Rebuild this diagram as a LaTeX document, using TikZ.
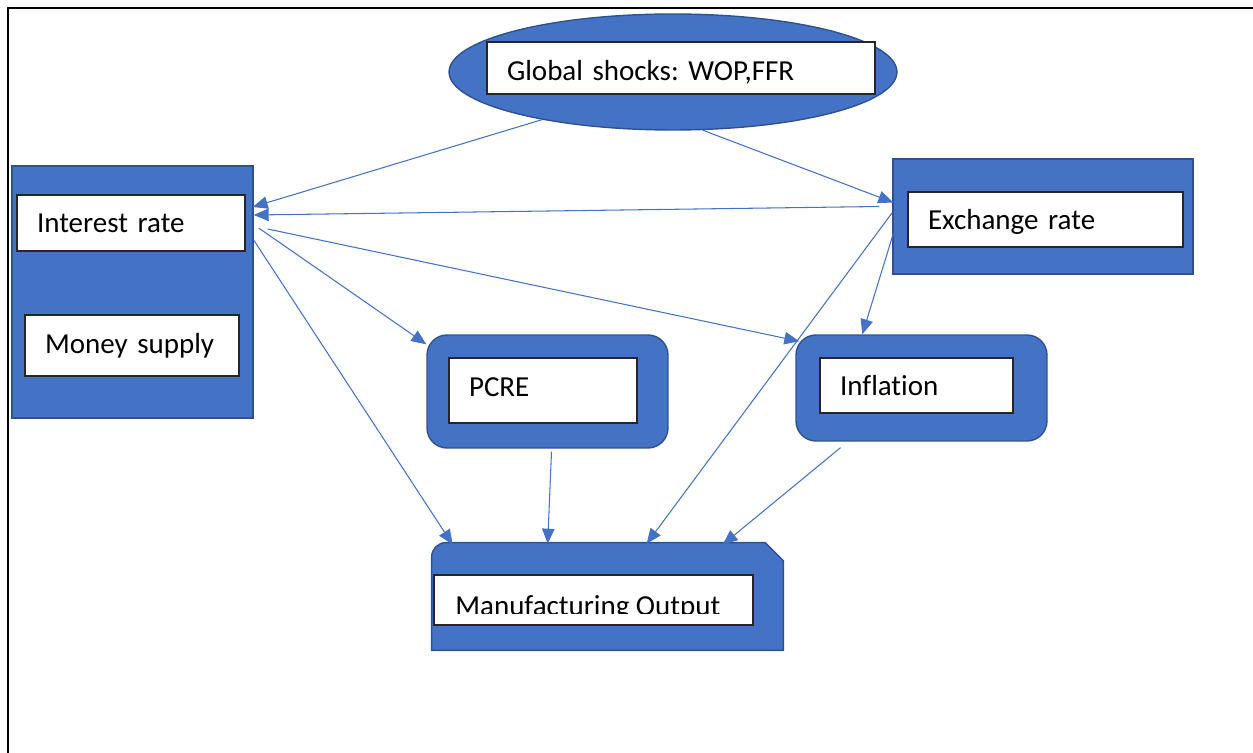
\documentclass[tikz,border=0pt]{standalone}
\usepackage{fontspec}
\setmainfont{Carlito}[Ligatures=NoCommon]
\frenchspacing
\usetikzlibrary{shapes.geometric,arrows.meta,calc}
\definecolor{boxblue}{HTML}{4472C4}
\definecolor{edgeblue}{HTML}{2F528F}

\begin{document}
\begin{tikzpicture}[x=0.02cm,y=-0.02cm,
		outer/.style={fill=boxblue,draw=edgeblue,line width=0.8pt,inner sep=0pt},
		inner/.style={fill=white,draw=black!85,line width=0.8pt,align=left,
			font=\fontsize{16.5}{20}\selectfont,inner xsep=0.4cm,inner ysep=0pt,text depth=0pt},
		link/.style={draw=boxblue,line width=0.6pt,-{Triangle[length=0.3cm,width=0.25cm]}}]

		\useasboundingbox (0,0) rectangle (1253,753);
		\draw[line width=1.4pt] (8,753) -- (8,8) -- (1253,8);

		% outer blue shapes
		\node[outer,ellipse,minimum width=8.96cm,minimum height=2.32cm] (shocks) at (673,72) {};
		\node[outer,minimum width=4.82cm,minimum height=5.04cm] (left) at (132.5,292) {};
		\node[outer,minimum width=6cm,minimum height=2.3cm] (exout) at (1043,216.5) {};
		\node[outer,rounded corners=0.4cm,minimum width=4.82cm,minimum height=2.26cm] (pcreout) at (547.5,391.5) {};
		\node[outer,rounded corners=0.4cm,minimum width=5.02cm,minimum height=2.12cm] (inflout) at (921.5,388) {};
		\node[minimum width=7.02cm,minimum height=2.14cm,inner sep=0pt] (mfg) at (607.5,596.5) {};
		\draw[outer] (mfg.south west) -- ($(mfg.north west)+(0,14)$)
			arc[start angle=180,end angle=90,radius=0.28cm]
			-- ($(mfg.north east)+(-18,0)$) -- ($(mfg.north east)+(0,18)$)
			-- (mfg.south east) -- cycle;

		% white label boxes
		\node[inner,text width=6.96cm,text height=0.52cm,minimum height=1.04cm] (shocksbox) at (681,68) {Global shocks: WOP,FFR};
		\node[inner,text width=3.76cm,text height=0.4cm,minimum height=1.12cm] (irbox) at (131,223) {Interest rate};
		\node[inner,text width=3.48cm,text height=0.3cm,minimum height=1.22cm] (msbox) at (132,345.5) {Money supply};
		\node[inner,text width=4.7cm,text height=0.42cm,minimum height=1.1cm] (exbox) at (1045.5,219.5) {Exchange rate};
		\node[inner,text width=2.96cm,text height=0.22cm,minimum height=1.3cm] (pcrebox) at (543,390.5) {PCRE};
		\node[inner,text width=3.06cm,text height=0.38cm,minimum height=1.1cm] (inflbox) at (916.5,385.5) {Inflation};
		\node[inner,minimum width=6.38cm,minimum height=1cm] (mfgbox) at (593.5,600) {};
		\begin{scope}
			\clip (mfgbox.north west) rectangle ($(mfgbox.south east)+(0,-12)$);
			\node[anchor=base west,inner sep=0pt,font=\fontsize{16.5}{20}\selectfont] (mfglabel) at (455,615) {Manufacturing Output};
		\end{scope}

		\draw[link] (shocks.200) -- ($(irbox.east)+(7,-16)$);
		\draw[link] (shocks.297) -- ($(exout.west)+(1,-14)$);
		\draw[link] ($(exout.west)+(-13,-10)$) -- ($(irbox.east)+(8,-8)$);
		\draw[link] ($(irbox.east)+(13,5)$) -- ($(pcreout.north west)+(0,10)$);
		\draw[link] ($(irbox.east)+(22,6)$) -- ($(inflout.north west)+(4,7)$);
		\draw[link] ($(irbox.east)+(8,17)$) -- ($(mfg.north west)+(21,2)$);
		\draw[link] ($(exout.west)+(0,-4)$) -- ($(mfg.north west)+(215,1)$);
		\draw[link] ($(exout.west)+(1,17)$) -- ($(inflout.north west)+(67,0)$);
		\draw[link] ($(pcreout.south)+(4,3)$) -- ($(mfg.north west)+(116,1)$);
		\draw[link] ($(inflout.south)+(-81,6)$) -- ($(mfg.north west)+(291,2)$);

\end{tikzpicture}
\end{document}
